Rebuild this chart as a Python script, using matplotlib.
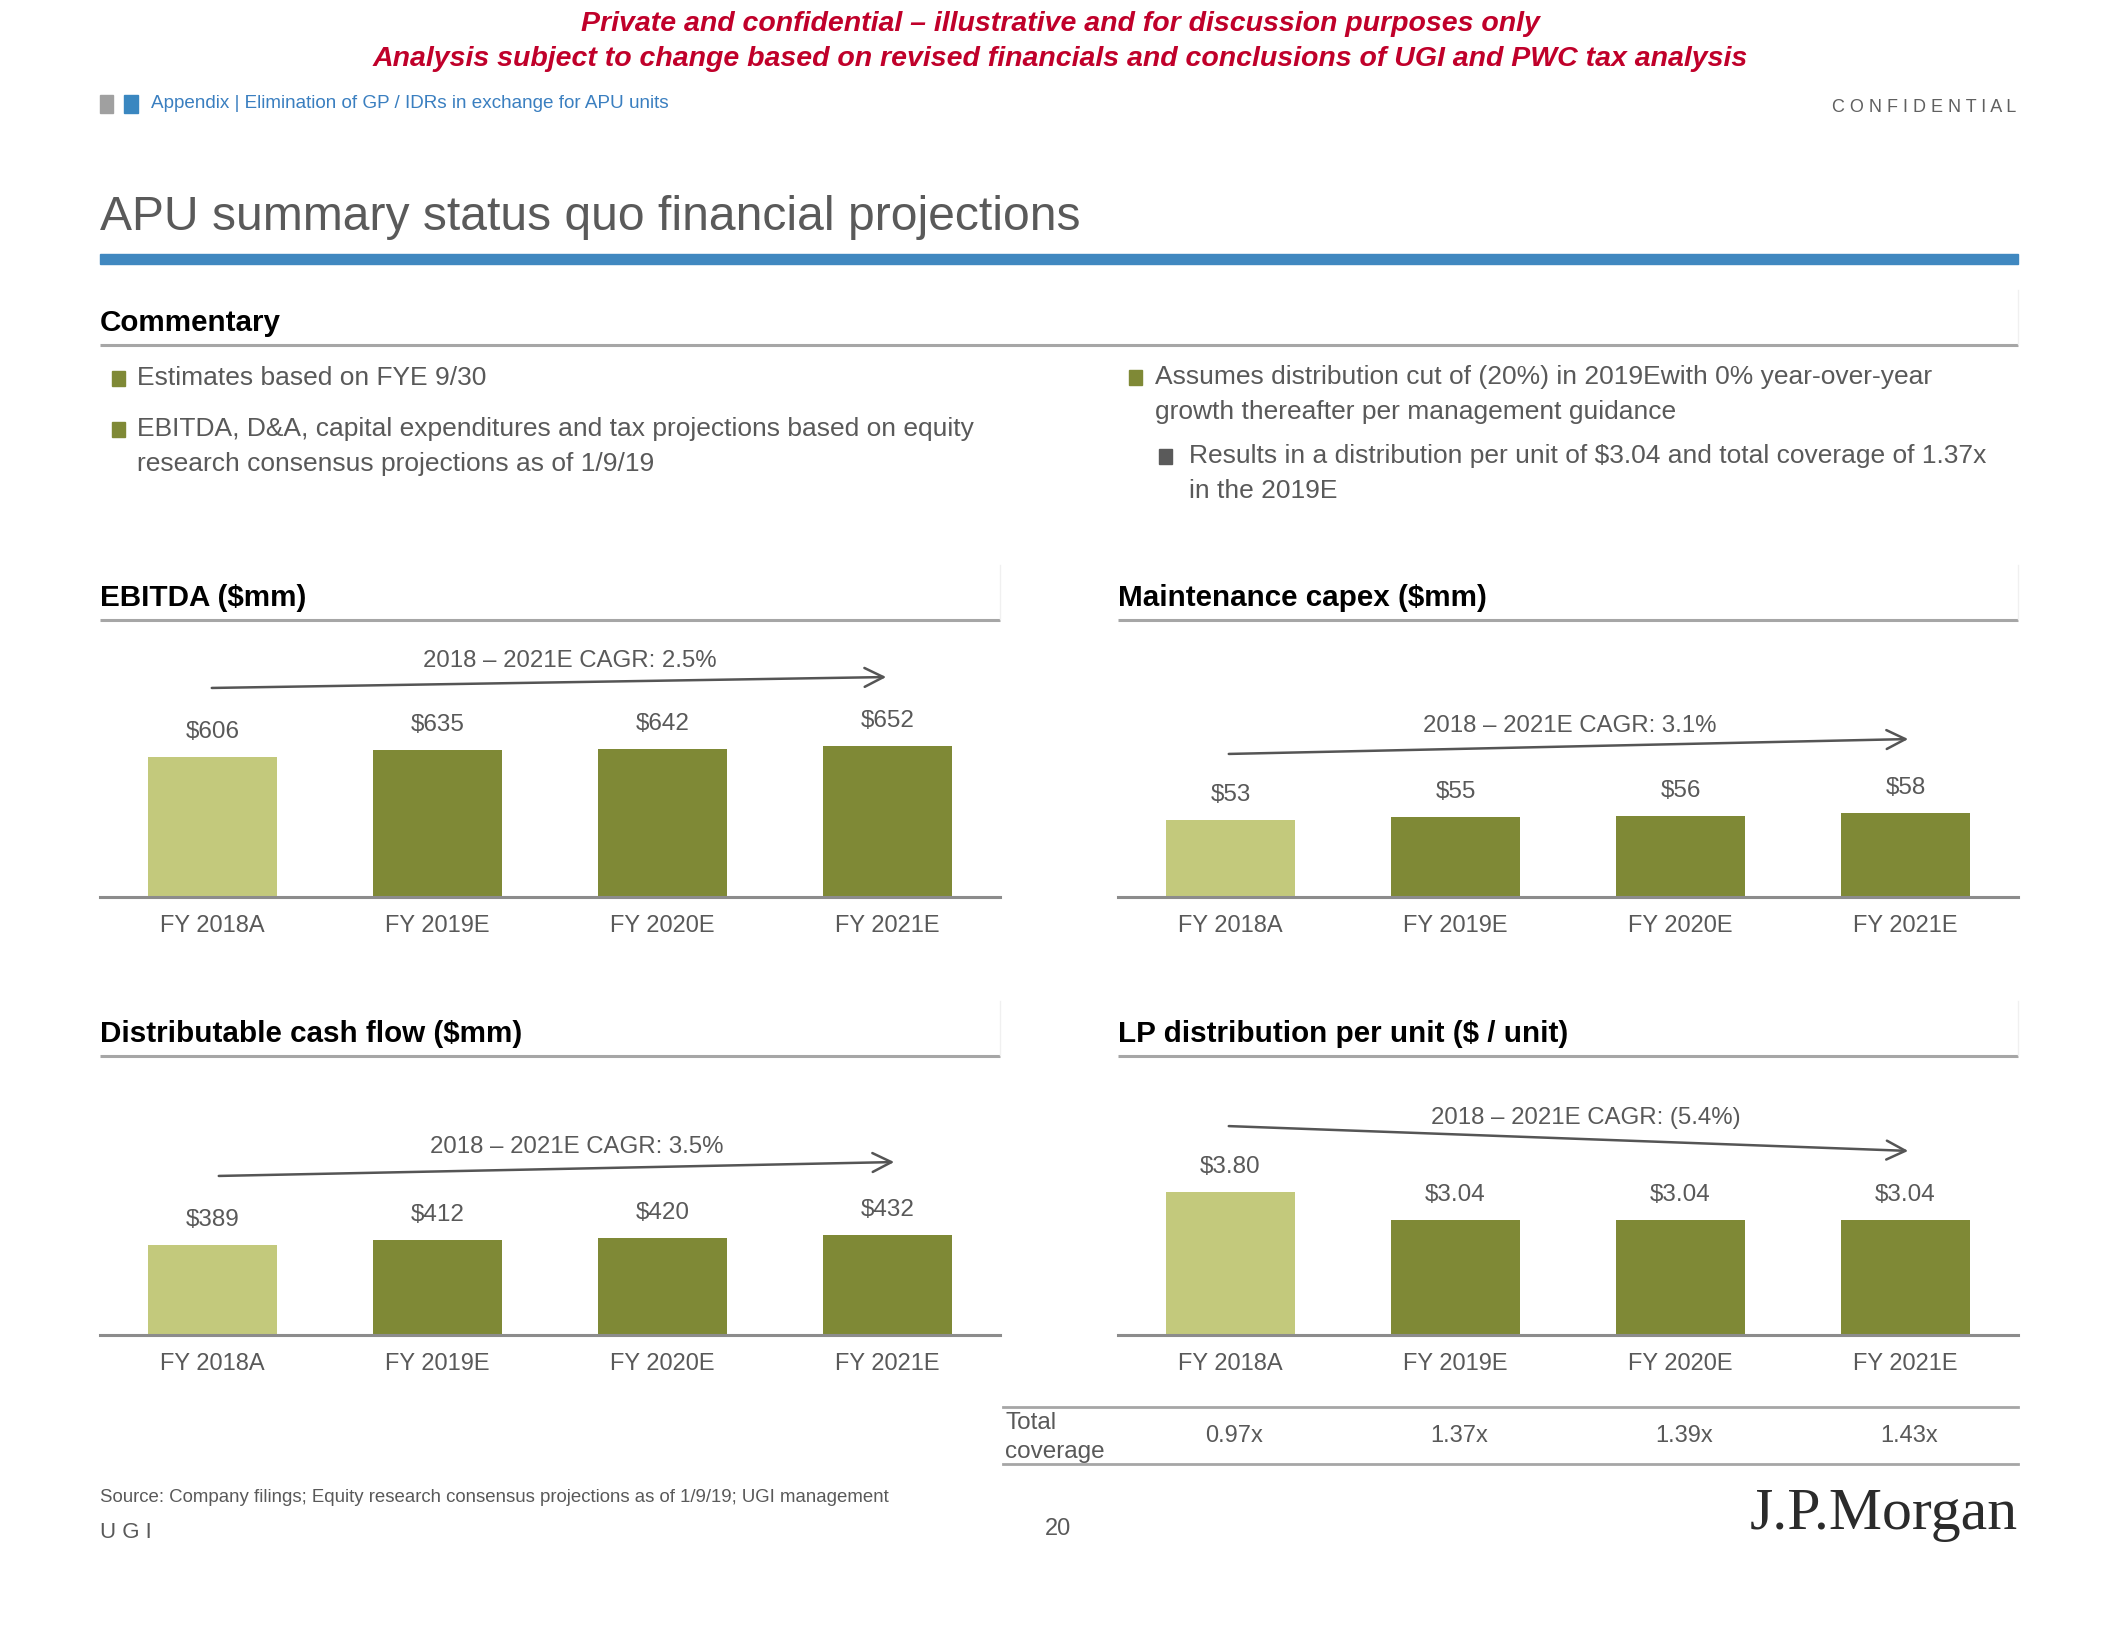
import matplotlib.pyplot as plt
from matplotlib.patches import Rectangle

# data
years = ['FY 2018A', 'FY 2019E', 'FY 2020E', 'FY 2021E']
ebitda = [606, 635, 642, 652]
dcf = [389, 412, 420, 432]
capex = [53, 55, 56, 58]
lp_dist = [3.80, 3.04, 3.04, 3.04]
coverage = ['0.97x', '1.37x', '1.39x', '1.43x']
ebitda_cagr = '2018 – 2021E CAGR: 2.5%'
dcf_cagr = '2018 – 2021E CAGR: 3.5%'
capex_cagr = '2018 – 2021E CAGR: 3.1%'
lp_cagr = '2018 – 2021E CAGR: (5.4%)'

W, H = 2119, 1638
SANS = ['Liberation Sans', 'DejaVu Sans']
GREY = '#595959'
LIGHT = '#C3C97C'
DARK = '#7F8936'
RULE = '#A6A6A6'

fig = plt.figure(figsize=(W / 100, H / 100), dpi=100)
fig.patch.set_facecolor('white')

# overlay in pixel coordinates for the slide furniture
ax0 = fig.add_axes([0, 0, 1, 1])
ax0.set_xlim(0, W)
ax0.set_ylim(H, 0)
ax0.axis('off')

def txt(x, y, s, size, color=GREY, ha='left', va='center', weight='normal', style='normal', family=SANS):
    ax0.text(x, y, s, fontsize=size, color=color, ha=ha, va=va, fontweight=weight,
             fontstyle=style, family=family)

# header
red = '#C0002A'
txt(1060, 24, 'Private and confidential – illustrative and for discussion purposes only', 20.5,
    color=red, ha='center', weight='bold', style='italic')
txt(1060, 59, 'Analysis subject to change based on revised financials and conclusions of UGI and PWC tax analysis', 20.5,
    color=red, ha='center', weight='bold', style='italic')
ax0.add_patch(Rectangle((100, 95), 13, 18, color='#A0A0A0'))
ax0.add_patch(Rectangle((124, 95), 14, 18, color='#3A87C0'))
txt(151, 104, 'Appendix | Elimination of GP / IDRs in exchange for APU units', 13.6, color='#3A7FC0')
txt(2016, 108, ' '.join('CONFIDENTIAL'), 13, color='#606060', ha='right')

txt(100, 217, 'APU summary status quo financial projections', 34.6, color='#5A5A5A')
ax0.add_patch(Rectangle((100, 254), 1918, 10, color='#4088C0'))

# section headers and rules
def header(x0, x1, y, s):
    txt(x0, y + 3, s, 21.3, color='black', weight='bold')
    ax0.plot([x0, x1], [y + 25, y + 25], color=RULE, lw=2.2, solid_capstyle='butt')
    ax0.plot([x1, x1], [y - 30, y + 24], color='#F0F0F0', lw=1)

header(100, 2018, 320, 'Commentary')
header(100, 1000, 595, 'EBITDA ($mm)')
header(1118, 2018, 595, 'Maintenance capex ($mm)')
header(100, 1000, 1031, 'Distributable cash flow ($mm)')
header(1118, 2018, 1031, 'LP distribution per unit ($ / unit)')

# commentary bullets
def bullet(xs, xt, y, lines, color=DARK):
    ax0.add_patch(Rectangle((xs, y - 7), 13, 15, color=color))
    for i, line in enumerate(lines):
        txt(xt, y + i * 35, line, 19)

bullet(112, 137, 378, ['Estimates based on FYE 9/30'])
bullet(112, 137, 429, ['EBITDA, D&A, capital expenditures and tax projections based on equity',
                       'research consensus projections as of 1/9/19'])
bullet(1129, 1155, 377, ['Assumes distribution cut of (20%) in 2019Ewith 0% year-over-year',
                         'growth thereafter per management guidance'])
bullet(1159, 1189, 456, ['Results in a distribution per unit of $3.04 and total coverage of 1.37x',
                         'in the 2019E'], color='#5A5A5A')

# bar charts
def bar_chart(x0, base, values, scale, fmt):
    h = 260
    ax = fig.add_axes([x0 / W, (H - base) / H, 900 / W, h / H])
    ax.set_facecolor('none')
    xs = range(len(values))
    colors = [LIGHT] + [DARK] * (len(values) - 1)
    bars = ax.bar(xs, values, width=0.57, color=colors, zorder=2)
    for b, v in zip(bars, values):
        ax.annotate(fmt.format(v), (b.get_x() + b.get_width() / 2, v), xytext=(0, 18),
                    textcoords='offset points', ha='center', va='center', fontsize=17.5,
                    color=GREY, family=SANS)
    ax.set_xlim(-0.5, 3.5)
    ax.set_ylim(0, h / scale)
    ax.set_xticks(list(xs))
    ax.set_xticklabels(years, fontsize=17, color=GREY, family=SANS)
    ax.tick_params(axis='x', length=0, pad=13)
    ax.set_yticks([])
    for s in ['top', 'left', 'right']:
        ax.spines[s].set_visible(False)
    ax.spines['bottom'].set_color('#8C8C8C')
    ax.spines['bottom'].set_linewidth(2.2)
    return ax

bar_chart(100, 897, ebitda, 0.231, '${:.0f}')
bar_chart(1118, 897, capex, 1.45, '${:.0f}')
bar_chart(100, 1335, dcf, 0.231, '${:.0f}')
bar_chart(1118, 1335, lp_dist, 37.7, '${:.2f}')

# CAGR arrows
def cagr(p0, p1, tx, ty, s):
    ax0.annotate('', xy=p1, xytext=p0,
                 arrowprops=dict(arrowstyle='->', color='#555555', lw=1.8, mutation_scale=34))
    txt(tx, ty, s, 17.3, ha='center')

cagr((209, 688), (889, 677), 570, 661, ebitda_cagr)
cagr((1226, 754), (1911, 739), 1570, 726, capex_cagr)
cagr((216, 1176), (897, 1162), 577, 1147, dcf_cagr)
cagr((1226, 1126), (1911, 1151), 1586, 1118, lp_cagr)

# coverage row
ax0.plot([1003, 2018], [1407, 1407], color=RULE, lw=2)
ax0.plot([1003, 2018], [1464, 1464], color=RULE, lw=2)
txt(1005, 1423, 'Total', 17.5)
txt(1005, 1452, 'coverage', 17.5)
for i, c in enumerate(coverage):
    txt(1234 + i * 225, 1436, c, 17, ha='center')

# footer
txt(100, 1497, 'Source: Company filings; Equity research consensus projections as of 1/9/19; UGI management', 13.4)
txt(100, 1532, 'U G I', 16)
txt(1058, 1529, '20', 17, ha='center')
txt(2018, 1515, 'J.P.Morgan', 43, color='#2B2B2B', ha='right', family=['Liberation Serif', 'DejaVu Serif'])

fig.savefig('out.png', dpi=100)
